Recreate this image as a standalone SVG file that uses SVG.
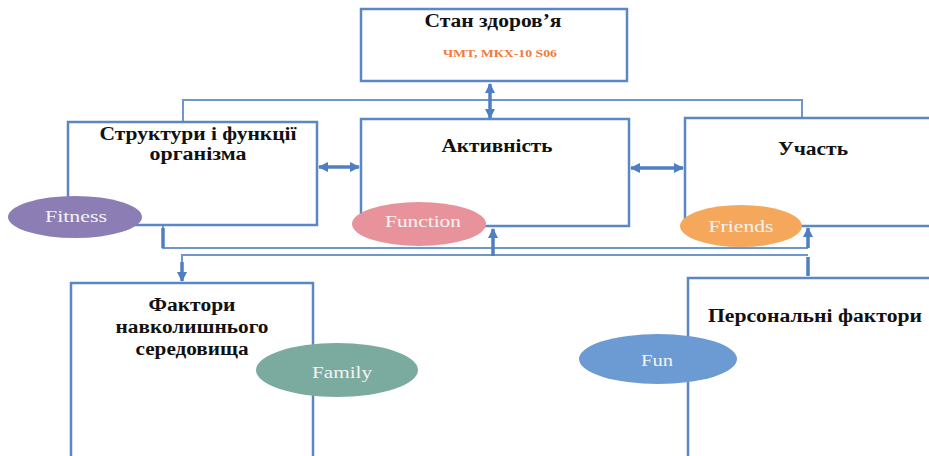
<svg xmlns="http://www.w3.org/2000/svg" width="929" height="456" viewBox="0 0 929 456">
<style>
.box{fill:#fff;stroke:#5b87c4;stroke-width:2.5}
.ln{fill:none;stroke:#6f97cc;stroke-width:2}
.ar{fill:none;stroke:#4f7fc0;stroke-width:3.5}
text{font-family:'Liberation Serif',Tinos,'Times New Roman','DejaVu Serif','Noto Serif',serif}
.t{font-weight:bold;font-size:18px;fill:#111;text-anchor:middle}
.e{font-size:17px;fill:#f3f3f3;text-anchor:middle}
</style>
<defs>
<marker id="ah" viewBox="0 0 10 10" refX="9" refY="5" markerWidth="3" markerHeight="3" orient="auto-start-reverse">
<path d="M0,0 L10,5 L0,10 z" fill="#4f7fc0"/>
</marker>
</defs>
<rect width="929" height="456" fill="#fff"/>
<g id="connectors">
<polyline class="ln" points="183,122 183,100 802,100 802,118"/>
<line class="ar" x1="490" y1="84" x2="490" y2="118" marker-start="url(#ah)" marker-end="url(#ah)"/>
<line class="ar" x1="319" y1="167" x2="359" y2="167" marker-start="url(#ah)" marker-end="url(#ah)"/>
<line class="ar" x1="631" y1="168" x2="683" y2="168" marker-start="url(#ah)" marker-end="url(#ah)"/>
<polyline class="ln" points="163,226 163,248 808,248"/>
<line class="ar" x1="163" y1="228" x2="163" y2="248"/>
<line class="ar" x1="808" y1="228" x2="808" y2="248" marker-start="url(#ah)"/>
<polyline class="ln" points="182,278 182,255 808,255"/>
<line class="ar" x1="182" y1="262" x2="182" y2="281" marker-end="url(#ah)"/>
<line class="ar" x1="808" y1="257" x2="808" y2="276"/>
<line class="ar" x1="493" y1="229" x2="493" y2="256" marker-start="url(#ah)"/>
</g>
<g id="stan">
<rect class="box" x="361" y="9" width="266" height="72"/>
<text class="t" x="493" y="27" textLength="137" lengthAdjust="spacingAndGlyphs">Стан здоров’я</text>
<text x="500" y="57" font-weight="bold" font-size="10" fill="#f07a3c" text-anchor="middle" textLength="114" lengthAdjust="spacingAndGlyphs">ЧМТ, МКХ-10 S06</text>
</g>
<g id="struktury">
<rect class="box" x="68" y="122" width="249" height="103"/>
<text class="t" x="198" y="140" textLength="197" lengthAdjust="spacingAndGlyphs">Структури і функції</text>
<text class="t" x="198" y="160" textLength="97" lengthAdjust="spacingAndGlyphs">організма</text>
</g>
<g id="aktyvnist">
<rect class="box" x="361" y="119" width="268" height="107"/>
<text class="t" x="497" y="152" textLength="111" lengthAdjust="spacingAndGlyphs">Активність</text>
</g>
<g id="uchast">
<rect class="box" x="685" y="118" width="260" height="108"/>
<text class="t" x="813" y="155" textLength="70" lengthAdjust="spacingAndGlyphs">Участь</text>
</g>
<g id="faktory">
<rect class="box" x="71" y="283" width="242" height="190"/>
<text class="t" x="192" y="311" textLength="87" lengthAdjust="spacingAndGlyphs">Фактори</text>
<text class="t" x="192" y="333" textLength="153" lengthAdjust="spacingAndGlyphs">навколишнього</text>
<text class="t" x="192" y="355" textLength="113" lengthAdjust="spacingAndGlyphs">середовища</text>
</g>
<g id="personalni">
<rect class="box" x="688" y="278" width="260" height="195"/>
<text class="t" x="815" y="322" textLength="214" lengthAdjust="spacingAndGlyphs">Персональні фактори</text>
</g>
<g id="fitness">
<ellipse cx="75" cy="217" rx="67" ry="21" fill="#8c7db5"/>
<text class="e" x="76" y="222" textLength="62" lengthAdjust="spacingAndGlyphs">Fitness</text>
</g>
<g id="function">
<ellipse cx="419" cy="224" rx="67" ry="22" fill="#e8939c"/>
<text class="e" x="423" y="227" textLength="76" lengthAdjust="spacingAndGlyphs">Function</text>
</g>
<g id="friends">
<ellipse cx="741" cy="226" rx="61" ry="21" fill="#f5a85c"/>
<text class="e" x="741" y="232" textLength="65" lengthAdjust="spacingAndGlyphs">Friends</text>
</g>
<g id="family">
<ellipse cx="337" cy="370" rx="81" ry="27" fill="#7aab9e"/>
<text class="e" x="342" y="378" textLength="60" lengthAdjust="spacingAndGlyphs">Family</text>
</g>
<g id="fun">
<ellipse cx="658" cy="359" rx="79" ry="25" fill="#6b9bd2"/>
<text class="e" x="657" y="366" textLength="32" lengthAdjust="spacingAndGlyphs">Fun</text>
</g>
</svg>
